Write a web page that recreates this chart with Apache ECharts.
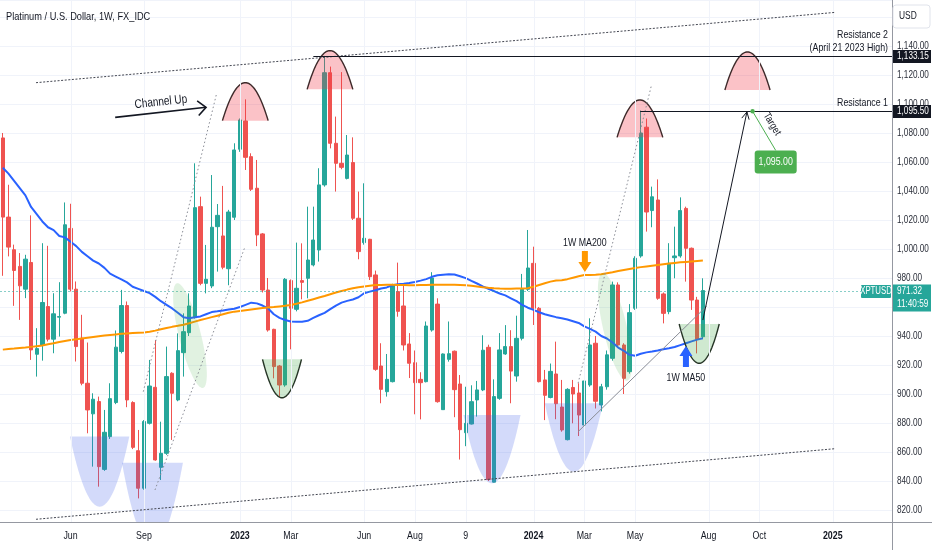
<!DOCTYPE html>
<html><head><meta charset="utf-8">
<script src="https://cdn.jsdelivr.net/npm/echarts@6/dist/echarts.min.js"></script>
<style>html,body{margin:0;padding:0;background:#fff;}#c{width:932px;height:550px;}</style>
</head><body><div id="c"></div>
<script>
const FONT = "'Liberation Sans',Arial,sans-serif";
const startWeek = '2022-03-14';
const weekCount = 158;
const open  = [1076.6,1022,999.5,988,972.3,990.7,927.4,933.7,960.3,937.8,953,955.7,1014.2,972.3,938.5,907.4,886.3,894.8,848,870.6,894.1,929.3,961,894.1,860.9,835,879.8,904.6,849.4,859.1,914.3,895.9,928.5,942.3,953.3,1029.2,976.3,974.5,1015.4,1009,986.4,1021.9,1068.8,1088.3,1063.7,1041.9,1010.4,971.7,944.6,919.3,906.2,978.2,958.4,978.2,979.8,989,999.3,1044.2,1121.6,1072.9,1059.1,1048.7,1059.6,1021.2,1004.4,1006.7,982.1,919.3,901.6,908.5,970.6,960.7,934.5,921.6,910.1,908.5,944.1,962,889.2,923.9,929.5,906.9,873.3,879.3,895.9,902.8,932.2,839.2,897,927.6,932.7,912.4,938.4,972.2,990.1,959.1,909.7,897.6,913.8,891,868.5,904.5,900.7,878.6,906.2,935,892.4,905,924.6,975.2,933.8,915.4,959.1,995.2,1084,1026.5,1033.8,969,956.8,994,995.2,1028,1000.5,964.8,939.5];
const high  = [1080,1044.3,1003,997.2,996,1023.2,945.4,1004,1002.2,969.5,977.1,1032.1,1031.2,977.6,954.6,935.5,900.5,898.2,889,907.4,943.8,971.8,963.8,895,875.2,882,923.5,937.2,880.9,932.7,915,941.8,955.6,969.4,1059.1,1036.1,1002.8,1051,1031,1043.5,1027,1072.9,1090,1103.2,1066,1061.4,1011,980,945,920,980,979,1004.4,1003.9,1029.2,1029.2,1055.7,1133.15,1125.8,1091.3,1122,1078.6,1077,1039.6,1045.3,1007,985.1,935,927.6,976,990.6,975,942,930,915,950,984,966,928,950,930,913.1,905,906,909,940.5,934,910.1,942,947.5,944,954,982.8,1013.1,1001.6,960,916.6,921,936.1,909.7,904,909.7,907.4,915,952.2,940,907,930,977.5,977,935,962,995,1095.5,1090,1043,1048,970,1004,1015.4,1035.6,1029.2,1001,967,979.8];
const low   = [981.5,994.9,960.8,951.1,966.1,923.5,912,923,936.2,928.1,939.6,955,970.7,922.4,906,872.9,849.9,836.1,847,869,893,928,890.9,862,828,834,879,854,840.7,858,868.3,895,912,940,952,975,969.4,973,984.4,986,975,1020,1067,1054.5,1040,1002,970,943,910.8,898.2,905,930.8,957,965.3,966,988,991.3,1043,1069.4,1039.6,1055,1048,1020,992.9,1003,978.6,916,893.6,898.2,908,953.3,930,911,886,882.5,908,943,894,889,922.3,884,854.8,864,879,884.4,902,840,839,896,927,893.6,908.5,937,971,947.6,908,882,897,882.6,874,868,879.8,871,877,905,890,888,903,923,933,900,914,958,994,1012,1015,965,948.7,955,979.8,994,977.5,958,928,938];
const close = [1022,1001.3,985.2,974.6,993,930.4,931.3,963.1,937.8,955.3,953.4,1016.7,972.3,932.7,907.4,889,896.4,849.9,873.6,896.8,932.3,961,895.9,863.2,835,881,905.5,854.5,859.1,912,900.5,929.9,943,960.7,1028.5,976.3,979.1,1015,1023.2,987.4,1025.5,1068.3,1089,1063.2,1041.2,1009.7,971.7,944.1,918.9,906.2,979.1,959.1,972.9,977,992.4,1006.2,1044.2,1121.6,1072.9,1059.1,1056.3,1064.8,1021.2,998.2,1007.4,980.9,917,903.2,910.1,975,957,933.8,921.2,907.8,907.8,946.9,980,894.7,927.6,927.8,903,875.4,879.8,894.7,902.8,930.2,841,898.2,930.4,932.7,915.8,938.4,972.2,986.9,959.1,908.5,899.1,915.6,893.3,875.2,903.2,900,885.5,909,933.8,895,905,927,975.2,933.8,910.8,956.1,993.6,1080,1025.5,1036,966,955.6,990.1,995.2,1026.5,1000.5,964.8,937.7,971.32];
const ma50  = [1056,1052,1047,1042,1037,1029,1024,1019,1015,1013,1009,1008,1005,1002,998,995,992,990,987,983,981,979,977,974,972.5,971,969.6,967,964,961.5,959,956,953,952.3,953,953.5,955,956.5,957,957.6,958.3,958.8,960,961.5,963,962.5,961,959,955,952.5,951,950,949.8,949.9,950.5,952.5,954.3,956,958.5,961,963,964.2,965.2,966.7,969.5,970.6,971.6,972.8,973.5,975,975.7,976,976.5,977.3,978.2,979.2,980.8,981.9,982.3,982.5,982.4,981.2,979.9,978,976.2,974.2,972.6,971,969.3,968,966,964,961.5,959.5,958,956.4,955,954,953,952.3,951.4,950.2,949,946.6,944.9,943,940,938.3,935.5,932,929.8,927,926.4,927.8,928.7,929.3,930,930.9,931.6,932.4,933.7,935,936.3,937.5,938.4];
const ma200 = [930.6,931,931.3,931.7,932,932.5,933,933.5,934.3,935,935.8,936.6,937.3,937.8,938.3,938.8,939.3,939.8,940.3,940.7,941.1,941.5,941.8,942,942.2,942.4,943,943.7,944.6,945.5,946.3,947,947.8,948.8,949.9,951,952,953,954,955,956,956.8,957.3,957.8,958.3,958.8,959.3,959.7,960,960.4,960.8,961.4,962.2,963.2,964.3,965.4,966.5,967.6,968.8,970,971,972,972.9,973.6,974.2,974.7,975.1,975.2,975.3,975.3,975.2,975.1,975,975,975.1,975.2,975.3,975.4,975.4,975.4,975.3,975.2,975,974.6,974.1,973.6,973.2,972.9,972.7,972.6,972.6,972.7,972.8,973,974,975.2,976.4,977.5,978.3,978.5,979.2,980.2,981.2,982,982.1,982.3,982.6,983.3,984,984.8,985.5,986.2,986.9,987.5,988,988.5,989,989.5,990,990.4,990.8,991.1,991.4,991.7,992];
const tickLabels = [['2022-06-06','Jun'],['2022-09-05','Sep'],['2023-01-02','2023'],['2023-03-06','Mar'],['2023-06-05','Jun'],['2023-08-07','Aug'],['2023-10-09','9'],['2024-01-01','2024'],['2024-03-04','Mar'],['2024-05-06','May'],['2024-08-05','Aug'],['2024-10-07','Oct'],['2025-01-06','2025']];
const priceTicks = [820,840,860,880,900,920,940,960,980,1000,1020,1040,1060,1080,1100,1120,1140,1160];
const yRange = [811.72, 1171.72];
const lastPrice = 971.32;
const countdown = '11:40:59';
const resistance2 = 1133.15, resistance1 = 1095.50, targetPrice = 1095.00;

// annotation anchors in (week index, price)
const channelLines = [[[5.88,1114.7],[147.5,1163.2]], [[5.88,813.6],[147.5,862.3]]];
const innerDotted = [[[24.88,901.6],[37.88,1107.4]], [[26.95,833.8],[42.9,1001.6]], [[101.9,907.4],[114.9,1113.1]]];
const innerSolid = [[101.9,874],[124.7,960.7]];
const domes = [[38.9,47.0,1088.5,1114.7],[53.9,62.0,1110.1,1136.8],[108.8,116.9,1077,1102.8],[127.9,135.9,1109.7,1135.9]];
const greenCups = [[46.0,52.9,923.9,897.4],[119.8,126.9,948.3,921.2]];
const blueCups = [[11.9,22.4,870.6,822.3],[21.1,31.9,852.6,795],[81.6,91.7,885.5,838.4],[96,106.3,893.6,846.4]];
const greenEllipses = [[33.15,940.3,1.95,37.2,14],[108.4,946.2,2.1,38,13]];

const categories = [];
{ let t = Date.parse(startWeek + 'T00:00:00Z'); for (let k = 0; k < weekCount; k++) { categories.push(new Date(t).toISOString().slice(0,10)); t += 7*86400000; } }
const tickMap = {}; tickLabels.forEach(([d,l]) => { tickMap[categories.indexOf(d)] = l; });
const candleData = open.map((o,k) => [o, close[k], low[k], high[k]]);

function fmt(v){ const s = v.toFixed(2).split('.'); return s[0].replace(/\B(?=(\d{3})+(?!\d))/g, ',') + '.' + s[1]; }

const GRID = {left:0, right:40, top:0, bottom:28};
const option = {
  animation:false, backgroundColor:'#ffffff',
  grid:GRID,
  xAxis:{type:'category', data:categories, boundaryGap:true,
    axisLine:{show:false}, axisTick:{show:false}, splitLine:{show:false}, axisLabel:{show:false}},
  yAxis:{type:'value', position:'right', min:yRange[0], max:yRange[1], splitNumber:18,
    axisLine:{show:false}, axisTick:{show:false}, axisLabel:{show:false},
    splitLine:{show:true, lineStyle:{color:'#f0f3fa', width:1}}},
  series:[
    {type:'candlestick', data:candleData, barWidth:'68%', silent:true, z:2,
      itemStyle:{color:'#26a69a', color0:'#ef5350', borderColor:'#26a69a', borderColor0:'#ef5350', borderWidth:1}},
    {type:'line', data:ma50, symbol:'none', silent:true, z:3, lineStyle:{color:'#2962ff', width:2}},
    {type:'line', data:ma200, symbol:'none', silent:true, z:3, lineStyle:{color:'#ff9800', width:2}}
  ]
};
const chart = echarts.init(document.getElementById('c'));
chart.setOption(option);

(function build(){
  const W = 932, H = 550;
  const plotR = W - GRID.right, plotB = H - GRID.bottom;
  const x0 = chart.convertToPixel({xAxisIndex:0}, 0), x1 = chart.convertToPixel({xAxisIndex:0}, 1);
  const X = i => x0 + (x1-x0)*i;
  const Y = v => chart.convertToPixel({yAxisIndex:0}, v);
  const P = p => [X(p[0]), Y(p[1])];
  const els = [];
  const txt = (x,y,text,opt) => { opt = opt||{}; const size = opt.size||10; const sx = opt.sx||0.84;
    els.push({type:'text', x:x, y:y, rotation:opt.rot||0, scaleX:sx, scaleY:1, z:opt.z||30, silent:true,
      style:{text:text, fill:opt.color||'#131722', font:(opt.weight||'normal')+' '+size+'px '+FONT,
        align:opt.align||'center', verticalAlign:opt.va||'middle', textAlign:opt.align||'center', textVerticalAlign:opt.va||'middle'}}); };
  const line = (a,b,stroke,width,dash,z) => els.push({type:'line', z:z||12, silent:true,
    shape:{x1:a[0],y1:a[1],x2:b[0],y2:b[1]}, style:{stroke:stroke, lineWidth:width, lineDash:dash||null}});
  const curve = (i0,i1,base,apex,clip) => { const xl=X(i0), xr=X(i1), yb=Y(base), ya=Y(apex); const pts=[];
    for (let k=0;k<=48;k++){ const t=-1+2*k/48; let y = yb + (ya-yb)*(1-t*t); if (clip) y=Math.min(y, plotB); pts.push([(xl+xr)/2 + t*(xr-xl)/2, y]); }
    return pts; };
  const chevron = (tip, from, len, ang) => { const dx=from[0]-tip[0], dy=from[1]-tip[1], d=Math.hypot(dx,dy), ux=dx/d, uy=dy/d, r=ang*Math.PI/180;
    const rot = s => [tip[0]+len*(ux*Math.cos(s)-uy*Math.sin(s)), tip[1]+len*(ux*Math.sin(s)+uy*Math.cos(s))];
    return [rot(r), tip, rot(-r)]; };

  // vertical grid lines + time labels
  Object.keys(tickMap).forEach(k => { const x = Math.round(X(+k))+0.5; line([x,0],[x,plotB],'#f0f3fa',1,null,0);
    const l = tickMap[k]; txt(X(+k), plotB+14, l, {size:10.5, weight:/^\d{4}$/.test(l)?'bold':'normal', z:19}); });
  // price labels
  priceTicks.forEach(v => txt(plotR+5, Y(v), fmt(v), {align:'left', size:10.5, color:'#2a2e39', z:19, sx:0.78}));
  // last price line
  const yl = Math.round(Y(lastPrice))+0.5;
  line([0,yl],[plotR,yl],'rgba(38,166,154,0.55)',1,[2,2],4);

  // blue translucent cups
  blueCups.forEach(c => els.push({type:'polygon', z:8, silent:true, shape:{points:curve(c[0],c[1],c[2],c[3],true)}, style:{fill:'rgba(70,100,235,0.24)'}}));
  // green translucent tilted ellipses
  greenEllipses.forEach(e => { const cx=X(e[0]), cy=Y(e[1]), rx=X(e[0]+e[2])-cx, ry=cy-Y(e[1]+e[3]), th=e[4]*Math.PI/180; const pts=[];
    for (let k=0;k<60;k++){ const a=2*Math.PI*k/60, lx=rx*Math.cos(a), ly=ry*Math.sin(a); pts.push([cx+lx*Math.cos(th)+ly*Math.sin(th), cy-lx*Math.sin(th)+ly*Math.cos(th)]); }
    els.push({type:'polygon', z:8, silent:true, shape:{points:pts}, style:{fill:'rgba(76,175,80,0.17)'}}); });
  // pink domes
  domes.forEach(d => { const pts=curve(d[0],d[1],d[2],d[3]);
    els.push({type:'polygon', z:9, silent:true, shape:{points:pts}, style:{fill:'rgba(242,54,69,0.3)'}});
    els.push({type:'polyline', z:10, silent:true, shape:{points:pts}, style:{stroke:'#3e2a2a', lineWidth:1.4, fill:'none'}}); });
  // green cups
  greenCups.forEach(d => { const pts=curve(d[0],d[1],d[2],d[3]);
    els.push({type:'polygon', z:9, silent:true, shape:{points:pts}, style:{fill:'rgba(76,175,80,0.27)'}});
    els.push({type:'polyline', z:10, silent:true, shape:{points:pts}, style:{stroke:'#263526', lineWidth:1.4, fill:'none'}}); });

  // channel lines
  channelLines.forEach(l => line(P(l[0]),P(l[1]),'#434651',1,[2,1.6],12));
  innerDotted.forEach(l => line(P(l[0]),P(l[1]),'#8a8d96',1,[1.5,2.5],12));
  line(P(innerSolid[0]),P(innerSolid[1]),'#8a8d96',1,null,12);

  // resistance lines
  const y2 = Math.round(Y(resistance2))+0.5, y1 = Math.round(Y(resistance1))+0.5;
  line([X(55),y2],[plotR,y2],'#131722',1.2,null,13);
  line([X(112.9),y1],[plotR,y1],'#131722',1.2,null,13);
  txt(plotR-4, y2-15.5, 'Resistance 2', {align:'right', va:'bottom', size:10.5});
  txt(plotR-4, y2-3, '(April 21 2023 High)', {align:'right', va:'bottom', size:10.5});
  txt(plotR-4, y1-3, 'Resistance 1', {align:'right', va:'bottom', size:10.5});

  // Channel Up label and arrow
  const ca = P([19.9,1090.8]), cb = P([36,1097.7]);
  els.push({type:'polyline', z:14, silent:true, shape:{points:[ca,cb]}, style:{stroke:'#131722', lineWidth:1.6, fill:'none'}});
  els.push({type:'polyline', z:14, silent:true, shape:{points:chevron(cb,ca,11,42)}, style:{stroke:'#131722', lineWidth:1.6, fill:'none'}});
  const ct = P([28,1101.4]); txt(ct[0], ct[1], 'Channel Up', {size:12.5, rot:6*Math.PI/180, sx:0.8});

  // MA200 arrow (orange, down)
  const ot = P([103.1,984.1]);
  els.push({type:'polygon', z:15, silent:true, shape:{points:[[ot[0]-3,ot[1]-21],[ot[0]+3,ot[1]-21],[ot[0]+3,ot[1]-10],[ot[0]+6.5,ot[1]-10],[ot[0],ot[1]],[ot[0]-6.5,ot[1]-10],[ot[0]-3,ot[1]-10]]}, style:{fill:'#ff9800'}});
  txt(ot[0], ot[1]-29, '1W MA200', {size:11, sx:0.8});
  // MA50 arrow (blue, up)
  const bt = P([121,933.1]);
  els.push({type:'polygon', z:15, silent:true, shape:{points:[[bt[0]-3,bt[1]+21],[bt[0]+3,bt[1]+21],[bt[0]+3,bt[1]+10],[bt[0]+6.5,bt[1]+10],[bt[0],bt[1]],[bt[0]-6.5,bt[1]+10],[bt[0]-3,bt[1]+10]]}, style:{fill:'#2962ff'}});
  txt(bt[0], bt[1]+32, '1W MA50', {size:11, sx:0.8});

  // projection arrow
  const pa = P([124,951]), pb = P([131.8,1094.5]);
  line(pa,pb,'#131722',1,null,14);
  els.push({type:'polyline', z:14, silent:true, shape:{points:chevron(pb,pa,8,28)}, style:{stroke:'#131722', lineWidth:1, fill:'none'}});

  // target
  const td = P([132.8,targetPrice]);
  const bx = X(136.9), by = Y(1068);
  line(td,[bx,by],'#4caf50',1,null,15);
  els.push({type:'circle', z:16, silent:true, shape:{cx:td[0], cy:td[1], r:2.2}, style:{fill:'#4caf50'}});
  const tt = P([135.9,1086.2]); txt(tt[0]+2, tt[1], 'Target', {rot:-59*Math.PI/180, size:10.5});
  els.push({type:'rect', z:16, silent:true, shape:{x:bx-21, y:by, width:42, height:23, r:3}, style:{fill:'#4caf50'}});
  txt(bx, by+11.5, fmt(targetPrice), {color:'#ffffff', size:10.5});

  // title
  txt(6, 16.5, 'Platinum / U.S. Dollar, 1W, FX_IDC', {align:'left', size:11});

  // axis frame
  line([0,plotB+0.5],[W,plotB+0.5],'#9598a1',1,null,20);
  line([plotR+0.5,0],[plotR+0.5,H],'#9598a1',1,null,20);

  // price scale boxes
  els.push({type:'rect', z:21, silent:true, shape:{x:plotR+1, y:5, width:37, height:23, r:3}, style:{fill:'#ffffff', stroke:'#e0e3eb', lineWidth:1}});
  txt(plotR+7, 16.5, 'USD', {align:'left', size:10, z:22});
  [[resistance2,y2],[resistance1,y1]].forEach(([v,y]) => {
    els.push({type:'rect', z:21, silent:true, shape:{x:plotR+1, y:y-6.5, width:38, height:13}, style:{fill:'#131722'}});
    txt(plotR+5, y, fmt(v), {align:'left', color:'#ffffff', size:10.5, z:22, sx:0.78}); });
  els.push({type:'rect', z:21, silent:true, shape:{x:plotR+1, y:yl-7, width:38, height:27}, style:{fill:'#26a69a'}});
  txt(plotR+5, yl, fmt(lastPrice), {align:'left', color:'#ffffff', size:10.5, z:22, sx:0.78});
  txt(plotR+5, yl+13, countdown, {align:'left', color:'#ffffff', size:10.5, z:22, sx:0.78});
  els.push({type:'rect', z:21, silent:true, shape:{x:plotR-31, y:yl-6.5, width:30, height:13, r:1}, style:{fill:'#26a69a'}});
  txt(plotR-16, yl, 'XPTUSD', {color:'#ffffff', size:10, z:22, sx:0.78});

  chart.setOption({graphic:{elements:els}});
})();
</script></body></html>
